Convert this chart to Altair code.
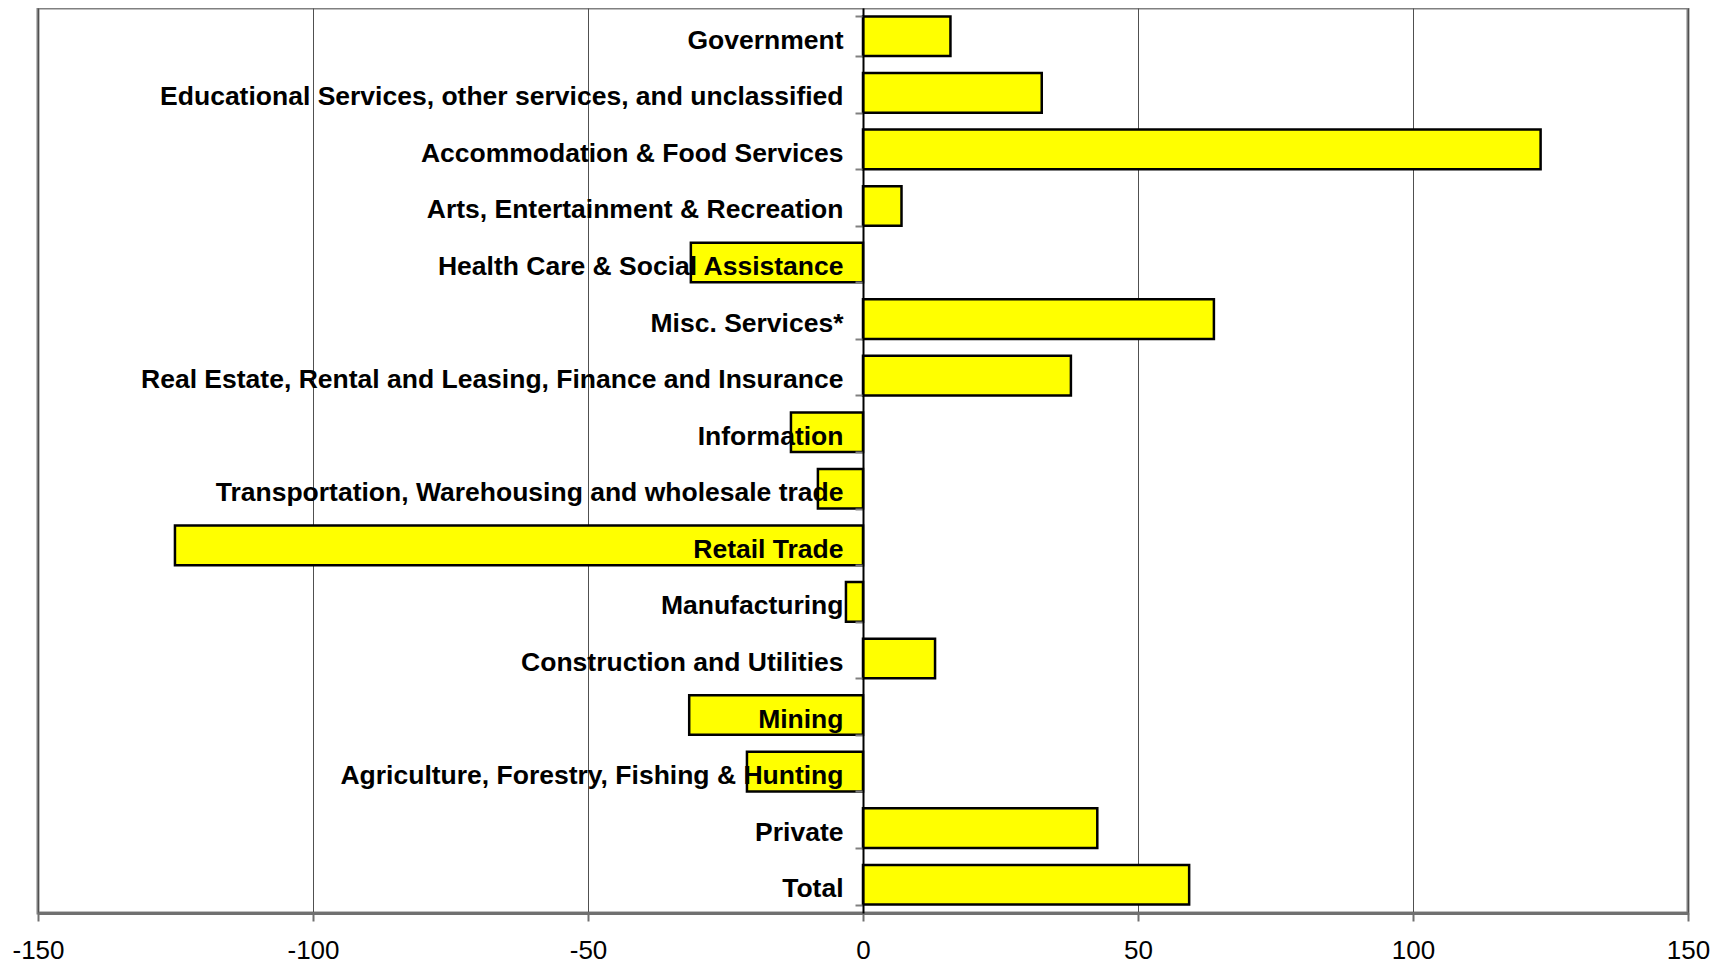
import altair as alt
import pandas as pd

categories = [
    "Government",
    "Educational Services, other services, and unclassified",
    "Accommodation & Food Services",
    "Arts, Entertainment & Recreation",
    "Health Care & Social Assistance",
    "Misc. Services*",
    "Real Estate, Rental and Leasing, Finance and Insurance",
    "Information",
    "Transportation, Warehousing and wholesale trade",
    "Retail Trade",
    "Manufacturing",
    "Construction and Utilities",
    "Mining",
    "Agriculture, Forestry, Fishing & Hunting",
    "Private",
    "Total",
]
values = [15.9, 32.5, 123.2, 7.0, -31.3, 63.8, 37.8, -13.1, -8.2, -125.1,
          -3.1, 13.1, -31.6, -21.1, 42.6, 59.3]
x_ticks = [-150, -100, -50, 0, 50, 100, 150]

df = pd.DataFrame({"category": categories, "value": values})

W = 1650
H = 905

bars = alt.Chart(df).mark_bar(
    color="#FFFF00", stroke="black", strokeWidth=2.5
).encode(
    x=alt.X(
        "value:Q",
        scale=alt.Scale(domain=[-150, 150], nice=False, zero=False),
        axis=alt.Axis(
            values=x_ticks,
            labelExpr="datum.value + ''",
            title=None,
            grid=True,
            gridColor="#505050",
            gridWidth=1,
            domainColor="#707070",
            domainWidth=3,
            tickColor="#707070",
            tickSize=8,
            tickWidth=2,
            labelFont="Liberation Sans",
            labelFontSize=26,
            labelColor="black",
            labelPadding=16,
            labelFlush=False,
            zindex=0,
        ),
    ),
    y=alt.Y(
        "category:N",
        sort=categories,
        scale=alt.Scale(paddingInner=0.3, paddingOuter=0.15),
        axis=alt.Axis(
            title=None,
            orient="left",
            offset=-W / 2,
            domainColor="black",
            domainWidth=2,
            tickColor="#808080",
            tickSize=8,
            tickWidth=2,
            tickBand="extent",
            labelFont="Liberation Sans",
            labelFontWeight="bold",
            labelFontSize=26.5,
            labelColor="black",
            labelPadding=12,
            labelOffset=4,
            labelLimit=1200,
            grid=False,
            zindex=1,
        ),
    ),
).properties(
    width=W,
    height=H,
    autosize=alt.AutoSizeParams(type="none"),
    padding={"left": 30, "top": 0, "right": 30, "bottom": 57},
).configure_view(
    stroke="#808080", strokeWidth=3
)

chart = bars
chart.save("out.html", embed_options={"renderer": "svg", "actions": False})
